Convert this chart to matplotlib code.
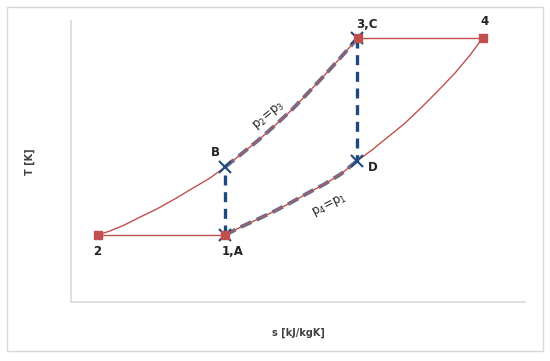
import matplotlib.pyplot as plt
from matplotlib.patches import Rectangle

# entropy (x) / temperature (y), arbitrary units
# outer cycle 2 -> B -> 3 -> 4 -> D -> 1 -> 2
s_compress = [5.9, 8.6, 11.5, 15.2, 18.9, 22.9, 26.2, 30.6, 33.9,
              37.4, 41.2, 44.9, 48.7, 52.2, 55.9, 59.5, 63.2]
T_compress = [23.8, 25.3, 27.2, 30.2, 33.1, 36.7, 39.9, 44.1, 48.0,
              52.5, 57.5, 62.8, 68.5, 74.4, 80.8, 87.2, 94.0]
s_expand = [33.9, 37.4, 41.2, 44.9, 48.7, 52.2, 55.9, 59.5, 63.0,
            66.3, 69.8, 73.6, 77.3, 80.8, 84.6, 87.9, 90.7]
T_expand = [23.8, 26.7, 29.5, 32.4, 35.6, 38.8, 42.0, 45.6, 50.2,
            54.1, 58.7, 63.7, 69.4, 75.1, 81.5, 87.9, 94.0]
s_top = [63.2, 90.7]
T_top = [94.0, 94.0]
s_bottom = [5.9, 33.9]
T_bottom = [23.8, 23.8]

# inner cycle A -> B -> C -> D
s_AB = [33.9, 33.9]
T_AB = [23.8, 48.0]
s_BC = [33.9, 37.4, 41.2, 44.9, 48.7, 52.2, 55.9, 59.5, 63.2]
T_BC = [48.0, 52.5, 57.5, 62.8, 68.5, 74.4, 80.8, 87.2, 94.0]
s_CD = [63.0, 63.0]
T_CD = [94.0, 50.2]
s_DA = [63.0, 59.5, 55.9, 52.2, 48.7, 44.9, 41.2, 37.4, 33.9]
T_DA = [50.2, 45.6, 42.0, 38.8, 35.6, 32.4, 29.5, 26.7, 23.8]

sq_s = [5.9, 33.9, 63.2, 90.7]
sq_T = [23.8, 23.8, 94.0, 94.0]
x_s = [33.9, 33.9, 63.0, 63.0]
x_T = [23.8, 48.0, 94.0, 50.2]

point_names = ["2", "1,A", "B", "3,C", "4", "D"]
point_s = [5.9, 33.9, 33.9, 63.2, 90.7, 63.0]
point_T = [23.8, 23.8, 48.0, 94.0, 94.0, 50.2]
offsets = [(-1, -16), (8, -16), (-10, 15), (9, 13), (2, 16), (16, -7)]

red = '#c0504d'
blue = '#1f497d'

fig = plt.figure(figsize=(5.5, 3.61), dpi=100)
ax = fig.add_axes([71/550, 59/361, 454/550, 281/361])

# dashed blue inner cycle
ax.plot(s_AB, T_AB, color=blue, lw=2.4, dashes=(3, 2))
ax.plot(s_CD, T_CD, color=blue, lw=2.4, dashes=(3, 2))
ax.plot(s_BC, T_BC, color=blue, lw=2.8, dashes=(3, 1.5), alpha=0.75)
ax.plot(s_DA, T_DA, color=blue, lw=2.8, dashes=(3, 1.5), alpha=0.75)

# red outer cycle
ax.plot(s_compress, T_compress, color=red, lw=1)
ax.plot(s_expand, T_expand, color=red, lw=1)
ax.plot(s_top, T_top, color=red, lw=1)
ax.plot(s_bottom, T_bottom, color=red, lw=1)

ax.plot(x_s, x_T, 'x', color=blue, ms=8, mew=1.5, ls='none')
ax.plot(sq_s, sq_T, 's', color=red, ms=6, ls='none')

for name, s, T, off in zip(point_names, point_s, point_T, offsets):
    ax.annotate(name, (s, T), xytext=off, textcoords='offset pixels',
                ha='center', va='center', fontsize=8.5, fontweight='bold',
                color='#222222')

ax.text(43.6, 66.2, r'p$_2$=p$_3$', rotation=40, ha='center', va='center',
        fontsize=8.5, color='#222222')
ax.text(57.0, 34.5, r'p$_4$=p$_1$', rotation=27, ha='center', va='center',
        fontsize=8.5, color='#222222')

ax.set_xlim(0, 100)
ax.set_ylim(0, 100)
ax.set_xticks([])
ax.set_yticks([])
for side in ['top', 'right']:
    ax.spines[side].set_visible(False)
for side in ['left', 'bottom']:
    ax.spines[side].set_color('#d9d9d9')
    ax.spines[side].set_linewidth(1.2)

fig.text(30/550, 1 - 162/361, 'T [K]', rotation=90, ha='center', va='center',
         fontsize=7, fontweight='bold', color='#404040')
fig.text(298/550, 1 - 333/361, 's [kJ/kgK]', ha='center', va='center',
         fontsize=7, fontweight='bold', color='#404040')

fig.add_artist(Rectangle((7/550, 10/361), 536/550, 344/361, fill=False,
                         ec='#d9d9d9', lw=1, transform=fig.transFigure))

fig.savefig('out.png', dpi=100)
